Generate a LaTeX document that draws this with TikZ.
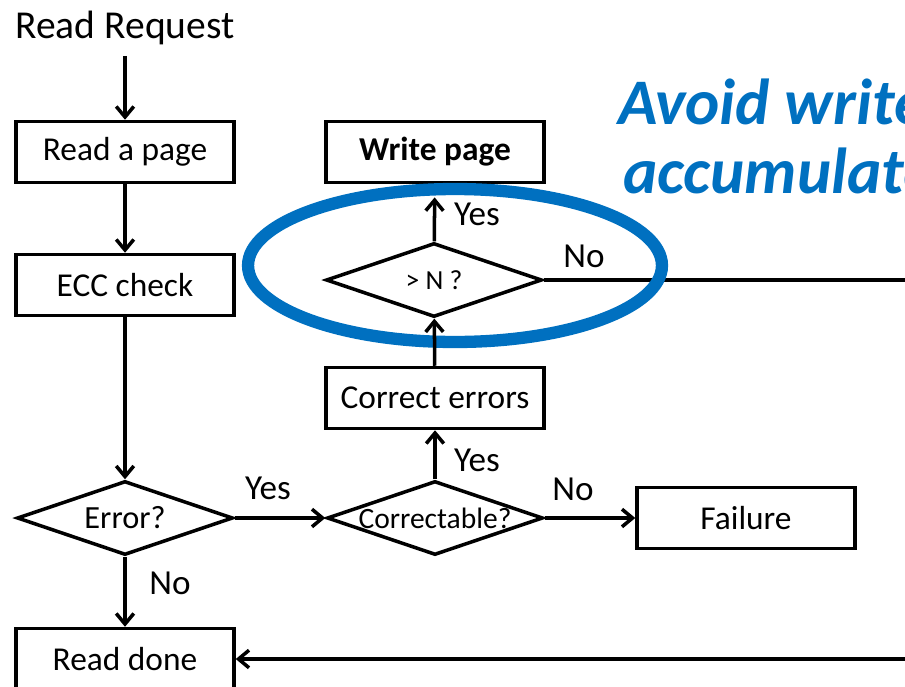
\documentclass[tikz,border=0pt]{standalone}
\usepackage{fontspec}
\setmainfont{Carlito}
\usetikzlibrary{shapes.geometric,arrows.meta}
\definecolor{accentblue}{RGB}{0,112,192}

\begin{document}
\begin{tikzpicture}[x=0.02cm,y=-0.02cm,
	box/.style={draw,line width=2pt,minimum width=4.36cm,minimum height=1.22cm,inner sep=0,font=\fontsize{19}{23}\selectfont},
	choice/.style={draw,diamond,line width=2pt,inner sep=0,minimum width=4.32cm,minimum height=1.48cm},
	lbl/.style={inner sep=0,font=\fontsize{20}{24}\selectfont},
	flow/.style={line width=2pt,-{Straight Barb[length=6pt,width=10pt]}}]
	\useasboundingbox (0,0) rectangle (905,686);
	\clip (0,0) rectangle (905,686);
	% left column
	\node[inner sep=0,font=\fontsize{22.5}{27}\selectfont] (req) at (125,28) {Read Request};
	\node[box] (read) at (125,152) {Read a page};
	\node[box] (ecc) at (125,285) {ECC check};
	\node[choice] (err) at (125,518) {\fontsize{18.4}{22}\selectfont\makebox[0pt]{Error?}};
	\node[box] (done) at (125,659) {Read done};
	% middle column
	\node[box,font=\fontsize{19}{23}\selectfont\bfseries] (write) at (435,152) {Write page};
	\node[choice] (gtn) at (434,280) {\fontsize{15.7}{19}\selectfont\makebox[0pt]{> N ?}};
	\node[box] (fix) at (435,398) {Correct errors};
	\node[choice] (corr) at (435,518) {\fontsize{16.8}{20}\selectfont\makebox[0pt]{Correctable?}};
	\node[box] (fail) at (746,518) {Failure};
	\coordinate (turn) at (960,470);
	% connectors
	\draw[flow,shorten <=6pt] (req) -- (read);
	\draw[flow] (read) -- (ecc);
	\draw[flow] (ecc) -- (err);
	\draw[flow] (err) -- (done);
	\draw[flow] (err) -- (corr);
	\draw[flow] (corr) -- (fix);
	\draw[flow] (corr) -- (fail);
	\draw[flow] (gtn.east) -| (turn) |- (done.east);
	% branch labels
	\node[lbl] (yes1) at (268,488) {Yes};
	\node[lbl] (no1) at (170,583) {No};
	\node[lbl] (yes2) at (477,460) {Yes};
	\node[lbl] (no2) at (573,489) {No};
	\node[lbl] (yes3) at (477,214) {Yes};
	\node[lbl] (no3) at (584,256) {No};
	% highlight
	\draw[accentblue,line width=7pt] (455,265.5) ellipse [x radius=4.14cm,y radius=1.53cm];
	\draw[flow] (fix) -- (gtn);
	\draw[flow,shorten >=7.5pt] (gtn) -- (write);
	\node[anchor=base west,inner sep=0,text=accentblue,font=\fontsize{37}{44}\selectfont\bfseries\itshape] (note1) at (618,124) {Avoid write};
	\node[anchor=base west,inner sep=0,text=accentblue,font=\fontsize{37}{44}\selectfont\bfseries\itshape] (note2) at (623,193) {accumulate};
\end{tikzpicture}
\end{document}
